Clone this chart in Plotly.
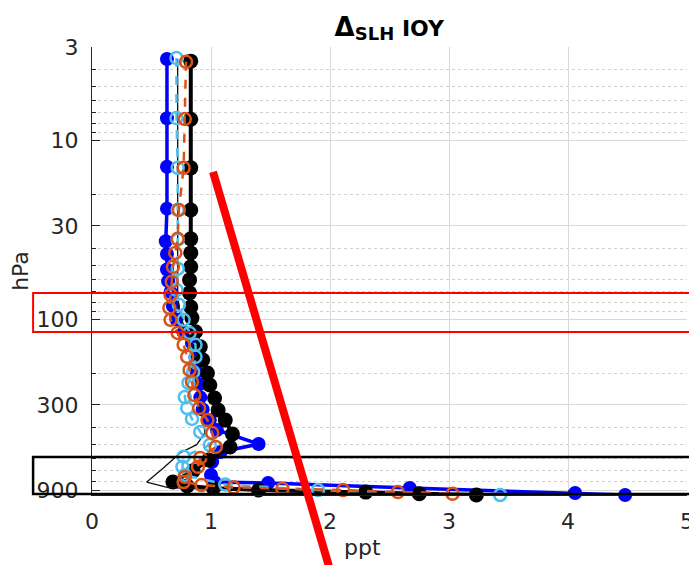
import numpy as np
import plotly.graph_objects as go

# ---------------- data (pressure in hPa, mixing ratio in ppt) ----------------
blue_p = [3.5, 7.5, 14, 24, 36.5, 43, 52.5, 61, 70, 84, 100, 118, 135, 163, 196, 230, 272,
          318, 364, 414, 496, 549, 623, 738, 808, 818, 873, 931, 955]
blue_v = [0.63, 0.63, 0.63, 0.63, 0.62, 0.63, 0.63, 0.64, 0.66, 0.68, 0.71, 0.77, 0.84, 0.87,
          0.88, 0.90, 0.91, 0.93, 0.99, 1.05, 1.40, 1.08, 1.01, 1.00, 1.03, 1.48, 2.67, 4.06, 4.48]

black_p = [3.6, 7.6, 14.2, 24.4, 35.4, 42.4, 50.7, 60, 70.9, 85, 97.8, 117, 142, 168, 199, 232,
           274, 320, 364, 436, 515, 608, 700, 808, 850, 875, 895, 920, 940, 955]
black_v = [0.83, 0.83, 0.83, 0.83, 0.83, 0.83, 0.83, 0.82, 0.82, 0.83, 0.84, 0.87, 0.91, 0.93,
           0.97, 0.99, 1.03, 1.06, 1.12, 1.18, 1.16, 0.98, 0.85, 0.68, 0.80, 1.02, 1.40, 2.30,
           2.75, 3.23]

thin_p = [3.5, 7.5, 14, 24, 36, 52, 70, 85, 100, 118, 138, 162, 196, 226, 264, 312, 364, 428,
          500, 556, 675, 808, 869, 896, 931, 955]
thin_v = [0.72, 0.72, 0.72, 0.72, 0.72, 0.72, 0.72, 0.73, 0.75, 0.80, 0.84, 0.86, 0.87, 0.88,
          0.89, 0.91, 0.93, 0.95, 0.88, 0.74, 0.60, 0.46, 0.64, 1.20, 2.20, 3.30]

lblue_p = [3.46, 7.48, 14.2, 24.4, 35.8, 52, 68.2, 82.6, 100.3, 118.7, 138.4, 161.4, 196, 226,
           271, 312, 359, 424, 502, 583, 665, 738, 835, 896, 955]
lblue_v = [0.71, 0.71, 0.72, 0.72, 0.72, 0.72, 0.71, 0.73, 0.77, 0.82, 0.87, 0.87, 0.85, 0.81,
           0.78, 0.80, 0.84, 0.91, 0.99, 0.77, 0.76, 0.78, 1.12, 1.90, 3.43]

orange_p = [3.63, 7.58, 14.2, 24.4, 35.4, 42.4, 50.7, 61.5, 72.7, 86, 100.3, 118.7, 138.4,
            161.4, 191, 223, 264, 312, 364, 430, 515, 593, 665, 757, 808, 840, 865, 880, 896,
            920, 940, 958]
orange_v = [0.79, 0.78, 0.77, 0.73, 0.72, 0.70, 0.68, 0.67, 0.66, 0.65, 0.66, 0.72, 0.77, 0.80,
            0.82, 0.84, 0.86, 0.90, 0.97, 1.01, 1.04, 0.91, 0.89, 0.78, 0.77, 0.92, 1.19, 1.60,
            2.11, 2.57, 3.03, 3.45]

y_ticks = [3, 10, 30, 100, 300, 900]
y_minor = [4, 5, 6, 7, 8, 9, 20, 40, 50, 60, 70, 80, 90, 200, 400, 500, 600, 700, 800]
x_ticks = [0, 1, 2, 3, 4, 5]

# ---------------- figure ----------------
fig = go.Figure()

fig.add_trace(go.Scatter(x=blue_v, y=blue_p, mode="lines+markers", cliponaxis=False,
                         line=dict(color="#0000FF", width=3.5),
                         marker=dict(color="#0000FF", size=14, line=dict(width=0))))
fig.add_trace(go.Scatter(x=black_v, y=black_p, mode="lines+markers", cliponaxis=False,
                         line=dict(color="#000000", width=4),
                         marker=dict(color="#000000", size=15, line=dict(width=0))))
fig.add_trace(go.Scatter(x=thin_v, y=thin_p, mode="lines", cliponaxis=False,
                         line=dict(color="#111111", width=1.3)))
fig.add_trace(go.Scatter(x=lblue_v, y=lblue_p, mode="lines+markers", cliponaxis=False,
                         line=dict(color="#4DBEEE", width=2.5, dash="dash"),
                         marker=dict(symbol="circle-open", color="#4DBEEE", size=12,
                                     line=dict(width=2.5, color="#4DBEEE"))))
fig.add_trace(go.Scatter(x=orange_v, y=orange_p, mode="lines+markers", cliponaxis=False,
                         line=dict(color="#D95319", width=2.5, dash="dash"),
                         marker=dict(symbol="circle-open", color="#D95319", size=12,
                                     line=dict(width=2.5, color="#D95319"))))

# annotation shapes (paper coordinates relative to plot area)
fig.add_shape(type="rect", xref="paper", yref="paper", x0=-0.099, x1=1.03, y0=0.364, y1=0.451,
              line=dict(color="#FF0000", width=2))
fig.add_shape(type="rect", xref="paper", yref="paper", x0=-0.099, x1=1.03, y0=0.002, y1=0.085,
              line=dict(color="#000000", width=2.5))
fig.add_shape(type="line", xref="paper", yref="paper", x0=0.2034, y0=0.721, x1=0.40, y1=-0.167,
              line=dict(color="#FF0000", width=8))

# x-axis label (placed slightly left of centre, as in the original)
fig.add_annotation(text="ppt", xref="paper", yref="paper", x=0.455, y=-0.118,
                   xanchor="center", yanchor="middle", showarrow=False,
                   font=dict(family="DejaVu Sans", size=22, color="#262626"))

tick_font = dict(family="DejaVu Sans", size=22, color="#262626")
# the page body adds an 8px offset, so margins are reduced by 8 on the left/top
fig.update_layout(
    width=697, height=565,
    margin=dict(l=84, r=18, t=39, b=78),
    paper_bgcolor="white", plot_bgcolor="white",
    showlegend=False,
    title=dict(text="<b><span style='font-size:26px'>Δ</span><sub><span style='font-size:18px'>SLH</span></sub> IOY</b>",
               x=0.547, xanchor="center", y=0.978,
               yanchor="top", font=dict(family="DejaVu Sans", size=22, color="#000000")),
    xaxis=dict(range=[0, 5], tickvals=x_ticks, ticktext=[str(t) for t in x_ticks],
               automargin=False,
               showgrid=True, gridcolor="#d9d9d9", gridwidth=1, zeroline=False,
               showline=True, linecolor="#262626", linewidth=1.2,
               ticks="inside", ticklen=5, tickcolor="#262626",
               tickfont=tick_font, ticklabelstandoff=6),
    yaxis=dict(type="log", range=[np.log10(955), np.log10(3)],
               tickmode="array", tickvals=y_ticks, ticktext=[str(t) for t in y_ticks],
               automargin=False,
               showgrid=True, gridcolor="#d9d9d9", gridwidth=1, zeroline=False,
               showline=True, linecolor="#262626", linewidth=1.2,
               ticks="inside", ticklen=8, tickcolor="#262626",
               tickfont=tick_font, ticklabelstandoff=8,
               minor=dict(tickmode="array", tickvals=y_minor, ticks="inside", ticklen=4,
                          tickcolor="#262626", showgrid=True, griddash="dot",
                          gridcolor="#cfcfcf", gridwidth=1),
               title=dict(text="hPa", font=dict(family="DejaVu Sans", size=22, color="#262626"),
                          standoff=6)),
)

fig.write_html("out.html")
